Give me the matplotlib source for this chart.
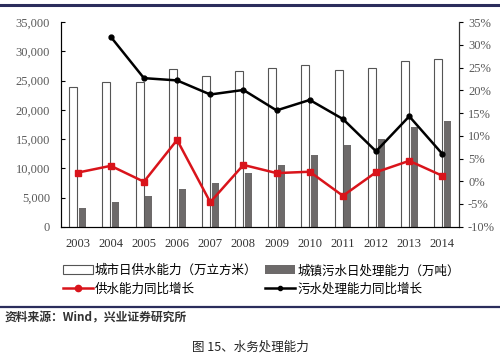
import matplotlib.pyplot as plt
import numpy as np
from matplotlib.lines import Line2D
from matplotlib.patches import Patch
from matplotlib.ticker import FuncFormatter

plt.rcParams['font.family'] = ['Liberation Serif', 'Noto Sans CJK SC', 'DejaVu Sans']

years = ['2003', '2004', '2005', '2006', '2007', '2008', '2009', '2010', '2011', '2012', '2013', '2014']
supply = [24000, 24800, 24800, 27000, 25800, 26700, 27100, 27650, 26800, 27200, 28400, 28700]
sewage = [3250, 4280, 5260, 6400, 7540, 9150, 10570, 12330, 14050, 14970, 17080, 18060]
supply_growth = [1.9, 3.4, -0.1, 9.1, -4.6, 3.6, 1.8, 2.1, -3.2, 2.0, 4.5, 1.2]
sewage_growth = [None, 31.8, 22.7, 22.2, 19.1, 20.1, 15.6, 17.9, 13.7, 6.6, 14.3, 6.0]

cjk = ['Noto Sans CJK SC', 'DejaVu Sans']
navy = '#2b2d5c'
grey_txt = '#5a5a5a'

fig = plt.figure(figsize=(5, 3.59), dpi=100)
ax = fig.add_axes([0.122, 0.3685, 0.796, 0.5695])
x = np.arange(len(years))

ax.bar(x - 0.13, supply, width=0.24, color='white', edgecolor='#555555', linewidth=0.8)
ax.bar(x + 0.15, sewage, width=0.21, color='#6d6a6a')
ax.set_ylim(0, 35000)
ax.set_xlim(-0.5, len(years) - 0.5)
ax.set_yticks(range(0, 35001, 5000))
ax.yaxis.set_major_formatter(FuncFormatter(lambda v, p: f'{int(v):,}'))
ax.set_xticks(x)
ax.set_xticklabels(years)
ax.tick_params(axis='x', length=0, pad=8, labelsize=9, labelcolor='#333333')
ax.tick_params(axis='y', direction='in', length=3, labelsize=9, labelcolor=grey_txt, pad=8)
ax.spines['top'].set_visible(False)
for s in ['left', 'right', 'bottom']:
    ax.spines[s].set_color('#333333')

ax2 = ax.twinx()
ax2.plot(x, supply_growth, color='#d9141b', linewidth=1.8, marker='s', markersize=4.5)
sg_x = [i for i, v in enumerate(sewage_growth) if v is not None]
sg_y = [v for v in sewage_growth if v is not None]
ax2.plot(sg_x, sg_y, color='black', linewidth=1.8, marker='o', markersize=3.5)
ax2.set_ylim(-10, 35)
ax2.set_yticks(range(-10, 36, 5))
ax2.yaxis.set_major_formatter(FuncFormatter(lambda v, p: f'{int(v)}%'))
ax2.tick_params(axis='y', direction='out', length=3, labelsize=9, labelcolor=grey_txt)
ax2.spines['top'].set_visible(False)
ax2.spines['right'].set_color('#333333')

handles = [
    Patch(facecolor='white', edgecolor='#555555', linewidth=0.8),
    Line2D([0], [0], color='#d9141b', linewidth=1.8, marker='o', markersize=4.5),
    Patch(facecolor='#6d6a6a'),
    Line2D([0], [0], color='black', linewidth=1.8, marker='o', markersize=3),
]
labels = ['城市日供水能力（万立方米）', '供水能力同比增长', '城镇污水日处理能力（万吨）', '污水处理能力同比增长']
fig.legend(handles, labels, ncol=2, loc='upper left', bbox_to_anchor=(0.115, 0.278),
           frameon=False, prop={'family': cjk, 'size': 9}, handlelength=2.4,
           handletextpad=0.2, columnspacing=0.6, labelspacing=0.45, borderaxespad=0)

fig.add_artist(Line2D([0, 1], [0.987, 0.987], color=navy, linewidth=2.2, transform=fig.transFigure))
fig.add_artist(Line2D([0, 1], [0.145, 0.145], color=navy, linewidth=1.6, transform=fig.transFigure))
fig.text(0.01, 0.113, '资料来源：Wind，兴业证券研究所', fontsize=8.5, fontweight='bold',
         family=cjk, va='center', color='#333333')
fig.text(0.5, 0.032, '图 15、水务处理能力', fontsize=9, family=cjk, ha='center', va='center', color='#222222')

fig.savefig('out.png', dpi=100)
